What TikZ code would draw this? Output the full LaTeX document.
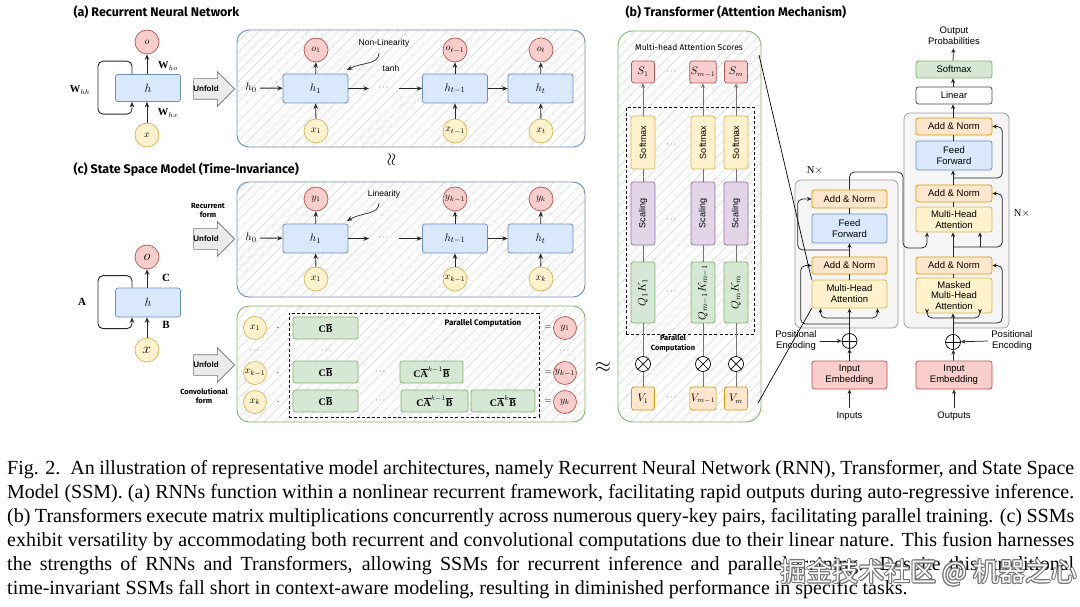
\documentclass[tikz,border=0pt]{standalone}
\usepackage{amsmath}
\usepackage{fontspec}
\setmainfont{Liberation Serif}
\newfontfamily\lab{Liberation Sans}
\newfontfamily\hand{Fira Sans}
\newfontfamily\cjkf{Noto Sans CJK SC}
\usetikzlibrary{arrows.meta,shapes.arrows,patterns.meta,calc}
\definecolor{blueL}{HTML}{DAE8FC}\definecolor{blueD}{HTML}{6C8EBF}
\definecolor{redL}{HTML}{F8CECC}\definecolor{redD}{HTML}{B85450}
\definecolor{yelL}{HTML}{FFF2CC}\definecolor{yelD}{HTML}{D6B656}
\definecolor{grnL}{HTML}{D5E8D4}\definecolor{grnD}{HTML}{82B366}
\definecolor{purL}{HTML}{E1D5E7}\definecolor{purD}{HTML}{9673A6}
\definecolor{orgL}{HTML}{FFE6CC}\definecolor{orgD}{HTML}{D79B00}
\definecolor{gryL}{HTML}{F5F5F5}\definecolor{gryD}{HTML}{9A9A9A}
\begin{document}
\begin{tikzpicture}[x=1pt,y=-1pt,
  arr/.style={-{Stealth[length=5.5pt,width=4.5pt]}, line width=0.9pt, draw=black!85},
  arr2/.style={-{Stealth[length=4.5pt,width=4pt]}, line width=0.75pt, draw=black!85},
  ln2/.style={line width=0.75pt, draw=black!85},
  gln/.style={line width=0.8pt, draw=black!55},
  garr/.style={gln, -{Stealth[length=4.5pt,width=4pt]}},
  box/.style={draw, rounded corners=2.5pt, line width=0.7pt, inner sep=1pt, align=center, font=\lab\fontsize{9.5}{11}\selectfont},
  hbox/.style={box, draw=blueD, fill=blueL, minimum width=65pt, minimum height=29pt, font=\fontsize{11}{12}\selectfont},
  ocirc/.style={circle, draw=redD, fill=redL, minimum size=24pt, inner sep=0pt, line width=0.7pt, font=\fontsize{10}{11}\selectfont},
  xcirc/.style={ocirc, draw=yelD, fill=yelL},
  gbox/.style={box, draw=grnD, fill=grnL, minimum height=22pt, font=\fontsize{10}{11}\selectfont},
  panel/.style={draw, rounded corners=12pt, line width=0.9pt, inner sep=0pt,
     pattern={Lines[angle=45,distance=7pt,line width=0.45pt]}, pattern color=black!16},
  unfold/.style={single arrow, draw=black!55, fill=black!8, line width=0.6pt, minimum height=41pt,
     single arrow head extend=7pt, inner xsep=2pt, inner ysep=10pt},
  unft/.style={font=\lab\bfseries\fontsize{8}{9}\selectfont},
  ttl/.style={anchor=west, font=\hand\bfseries\fontsize{12.5}{14}\selectfont},
  smallhand/.style={font=\hand\bfseries\fontsize{7.5}{9}\selectfont, align=center},
  note/.style={font=\lab\fontsize{8.5}{9}\selectfont},
  dots/.style={font=\fontsize{8}{8}\selectfont},
  otimes/.style={circle, draw, minimum size=15pt, inner sep=0pt, line width=0.7pt, fill=white,
     path picture={\draw[line width=0.7pt] (path picture bounding box.north west) -- (path picture bounding box.south east) (path picture bounding box.north east) -- (path picture bounding box.south west);}},
  oplus/.style={circle, draw, minimum size=15pt, inner sep=0pt, line width=0.7pt, fill=white,
     path picture={\draw[line width=0.7pt] (path picture bounding box.north) -- (path picture bounding box.south) (path picture bounding box.east) -- (path picture bounding box.west);}},
  vtxt/.style={box, rotate=90, minimum height=24pt},
  tbox/.style={box, minimum width=75pt},
]
\fill[white] (0,0) rectangle (1080,607);
\useasboundingbox (0,0) rectangle (1080,607);

% ---------------- (a) RNN ----------------
\node[ttl] (ta) at (70,12) {(a) Recurrent Neural Network};
\node[ocirc] (o) at (147,42) {$o$};
\node[hbox, minimum height=27pt, font=\fontsize{12}{12}\selectfont] (h) at (148,88) {$h$};
\node[xcirc] (x) at (147,135) {$x$};
\draw[arr] (x.north) -- (x.north|-h.south);
\draw[arr] (h.north-|o) -- (o.south);
\draw[arr, rounded corners=5pt] ([xshift=-16pt]h.north) -- ++(0,-13) -- ++(-34,0) -- ++(0,53) -- ++(34,0) -- ([xshift=-16pt]h.south);
\node[font=\fontsize{10.5}{11}\selectfont] (Whh) at (80,90) {$\mathbf{W}_{hh}$};
\node[font=\fontsize{10.5}{11}\selectfont] (Who) at (168,66) {$\mathbf{W}_{ho}$};
\node[font=\fontsize{10.5}{11}\selectfont] (Whx) at (168,113) {$\mathbf{W}_{hx}$};
\node[unfold] (u1) at (209,89) {};
\node[unft] (u1t) at (206,89) {Unfold};

\node[panel, draw=blueD, minimum width=348pt, minimum height=117pt] (P1) at (411,88.5) {};
\node[font=\fontsize{11}{12}\selectfont] (h0a) at (251,88) {$h_0$};
\node[hbox] (h1a) at (315.5,88.5) {$h_1$};
\node[ocirc] (o1a) at (316,50) {$o_1$};
\node[xcirc] (x1a) at (316,131) {$x_1$};
\node[dots] (d1a) at (384,88) {$\cdots$};
\node[hbox] (htma) at (455,88.5) {$h_{t-1}$};
\node[ocirc] (otma) at (455,50) {$o_{t-1}$};
\node[xcirc] (xtma) at (455,131) {$x_{t-1}$};
\node[hbox] (hta) at (540.5,88.5) {$h_t$};
\node[ocirc] (ota) at (541,50) {$o_t$};
\node[xcirc] (xta) at (541,131) {$x_t$};
\coordinate (a1) at (369,88.5); \coordinate (a2) at (399,88.5);
\draw[arr] (h0a) -- (h1a);
\draw[arr] (h1a) -- (a1);
\draw[arr] (a2) -- (htma);
\draw[arr] (htma) -- (hta);
\foreach \n in {1,tm,t}{\draw[arr] (x\n a) -- (h\n a); \draw[arr] (h\n a) -- (o\n a);}
\node[note] (nl) at (384,43) {Non-Linearity};
\node[note] (tanh) at (391,68) {tanh};
\coordinate (nlA) at (379,53); \coordinate (nlB) at (347,70);
\draw[arr, line width=0.7pt] (nlA) .. controls (379,65) and (362,62) .. (nlB);

\node[rotate=90, font=\fontsize{16}{16}\selectfont] (wav) at (392,160) {$\approx$};

% ---------------- (c) SSM ----------------
\node[ttl] (tc) at (70,170) {(c) State Space Model (Time-Invariance)};
\node[smallhand] (rf) at (208,210) {Recurrent\\form};
\node[unfold] (u2) at (209,239) {};
\node[unft] (u2t) at (206,239) {Unfold};
\node[unfold] (u3) at (209,365) {};
\node[unft] (u3t) at (206,365) {Unfold};
\node[smallhand] (cf) at (204,396) {Convolutional\\form};

\node[ocirc, font=\fontsize{14}{14}\selectfont] (so) at (147,257) {$o$};
\node[hbox, font=\fontsize{12}{12}\selectfont] (sh) at (148,302.5) {$h$};
\node[xcirc, font=\fontsize{14}{14}\selectfont] (sx) at (147,350) {$x$};
\draw[arr] (sx.north) -- (sx.north|-sh.south);
\draw[arr] (sh.north-|so) -- (so.south);
\draw[arr, rounded corners=5pt] ([xshift=-16pt]sh.north) -- ++(0,-12) -- ++(-34,0) -- ++(0,53) -- ++(34,0) -- ([xshift=-16pt]sh.south);
\node[font=\fontsize{11}{12}\selectfont] (lC) at (166,278) {$\mathbf{C}$};
\node[font=\fontsize{11}{12}\selectfont] (lB) at (166,325) {$\mathbf{B}$};
\node[font=\fontsize{11}{12}\selectfont] (lA) at (82,302) {$\mathbf{A}$};

\node[panel, draw=blueD, minimum width=348pt, minimum height=115pt] (P2) at (411,239.5) {};
\node[font=\fontsize{11}{12}\selectfont] (h0b) at (251,238) {$h_0$};
\node[hbox] (h1b) at (315.5,238.5) {$h_1$};
\node[ocirc] (o1b) at (316,199) {$y_1$};
\node[xcirc] (x1b) at (316,279) {$x_1$};
\node[dots] (d1b) at (384,238) {$\cdots$};
\node[hbox] (htmb) at (455,238.5) {$h_{t-1}$};
\node[ocirc] (otmb) at (455,199) {$y_{k-1}$};
\node[xcirc] (xtmb) at (455,279) {$x_{k-1}$};
\node[hbox] (htb) at (540.5,238.5) {$h_t$};
\node[ocirc] (otb) at (541,199) {$y_k$};
\node[xcirc] (xtb) at (541,279) {$x_k$};
\coordinate (b1) at (369,238.5); \coordinate (b2) at (399,238.5);
\draw[arr] (h0b) -- (h1b);
\draw[arr] (h1b) -- (b1);
\draw[arr] (b2) -- (htmb);
\draw[arr] (htmb) -- (htb);
\foreach \n in {1,tm,t}{\draw[arr] (x\n b) -- (h\n b); \draw[arr] (h\n b) -- (o\n b);}
\node[note] (lin) at (384,194) {Linearity};
\coordinate (lnA) at (379,203); \coordinate (lnB) at (347,221);
\draw[arr, line width=0.7pt] (lnA) .. controls (379,215) and (362,212) .. (lnB);

\node[panel, draw=grnD, minimum width=348pt, minimum height=116pt] (P3) at (411,364) {};
\node[draw, dashed, line width=0.9pt, dash pattern=on 3pt off 2.2pt, minimum width=250pt, minimum height=104pt, inner sep=0] (DR1) at (414,365) {};
\node[smallhand, font=\hand\bfseries\fontsize{8}{9}\selectfont] (pc1) at (483,323) {Parallel Computation};
\node[xcirc, minimum size=23pt] (cx1) at (255,328) {$x_1$};
\node[dots] (cxd) at (255,351) {$\cdots$};
\node[xcirc, minimum size=23pt] (cx2) at (255,373) {$x_{k-1}$};
\node[xcirc, minimum size=23pt] (cx3) at (255,402) {$x_k$};
\node[ocirc, minimum size=23pt] (cy1) at (565,328) {$y_1$};
\node[dots] (cyd) at (565,351) {$\cdots$};
\node[ocirc, minimum size=23pt] (cy2) at (565,373) {$y_{k-1}$};
\node[ocirc, minimum size=23pt] (cy3) at (565,402) {$y_k$};
\foreach \r/\yy in {1/328,2/373,3/402}{
  \node (dot\r) at (278,\yy) {$\cdot$};
  \node[font=\fontsize{9}{9}\selectfont] (eq\r) at (548,\yy) {$=$};
}
\node[gbox, minimum width=65pt] (cb1) at (325.5,328) {$\mathbf{C}\overline{\mathbf{B}}$};
\node[dots] (cbd) at (327,351) {$\cdots$};
\node[gbox, minimum width=65pt] (cb2) at (325.5,372) {$\mathbf{C}\overline{\mathbf{B}}$};
\node[dots] (cd2) at (381,372) {$\cdots$};
\node[gbox, minimum width=63pt] (ca2) at (431.5,372) {$\mathbf{C}\overline{\mathbf{A}}^{k-1}\overline{\mathbf{B}}$};
\node[gbox, minimum width=65pt] (cb3) at (325.5,401) {$\mathbf{C}\overline{\mathbf{B}}$};
\node[dots] (cd3) at (381,401) {$\cdots$};
\node[gbox, minimum width=67pt] (ca3) at (434.5,401) {$\mathbf{C}\overline{\mathbf{A}}^{k-1}\overline{\mathbf{B}}$};
\node[gbox, minimum width=64pt] (ck3) at (503,401) {$\mathbf{C}\overline{\mathbf{A}}^{k}\overline{\mathbf{B}}$};

\node[font=\fontsize{20}{20}\selectfont] (apx) at (603,367) {$\approx$};

% ---------------- (b) Transformer ----------------
\node[ttl] (tb) at (622,12) {(b) Transformer (Attention Mechanism)};
\node[panel, draw=grnD, rounded corners=15pt, minimum width=143pt, minimum height=391pt] (P4) at (689.5,226.5) {};
\node[font=\hand\fontsize{8.5}{9}\selectfont] (mhs) at (689,47) {Multi-head Attention Scores};
\node[draw, dashed, line width=0.9pt, dash pattern=on 3pt off 2.2pt, minimum width=128pt, minimum height=227pt, inner sep=0] (DR2) at (690,220.5) {};
\foreach \c/\xx/\s/\q/\v in {1/643/{S_1}/{Q_1K_1}/{V_1}, 2/703/{S_{m-1}}/{Q_{m-1}K_{m-1}}/{V_{m-1}}, 3/736/{S_m}/{Q_mK_m}/{V_m}}{
  \node[box, draw=redD, fill=redL, minimum width=23pt, minimum height=22pt, font=\fontsize{10.5}{11}\selectfont] (S\c) at (\xx,72) {$\s$};
  \node[vtxt, draw=yelD, fill=yelL, minimum width=53pt, font=\lab\fontsize{9}{9}\selectfont] (Sm\c) at (\xx,142.5) {Softmax};
  \node[vtxt, draw=purD, fill=purL, minimum width=63pt, font=\lab\fontsize{9}{9}\selectfont] (Sc\c) at (\xx,213.5) {Scaling};
  \node[vtxt, draw=grnD, fill=grnL, minimum width=61pt, font=\fontsize{11}{11}\selectfont] (QK\c) at (\xx,292.5) {$\q$};
  \node[otimes] (X\c) at (\xx,364) {};
  \node[box, draw=orgD, fill=orgL, minimum width=23pt, minimum height=23pt, font=\fontsize{10.5}{11}\selectfont] (V\c) at (\xx,398.5) {$\v$};
  \draw[gln] (V\c) -- (X\c);
  \draw[gln] (X\c) -- (QK\c);
  \draw[gln] (QK\c) -- (Sc\c);
  \draw[gln] (Sc\c) -- (Sm\c);
  \draw[garr] (Sm\c) -- (S\c);
}
\foreach \yy in {72,145,220,292,398}{\node[dots] at (672,\yy) {$\cdots$};}
\node[smallhand, font=\hand\bfseries\fontsize{7.5}{10}\selectfont] (pc2) at (673,343) {Parallel\\Computation};

% Encoder
\node[draw=gryD, fill=gryL, rounded corners=6pt, line width=0.7pt, minimum width=103pt, minimum height=148pt] (eG) at (846.5,254) {};
\node[font=\fontsize{10.5}{12}\selectfont] (Nx1) at (815,171) {N$\times$};
\node[tbox, draw=orgD, fill=orgL, minimum height=18pt] (eAN2) at (849.5,199) {Add \& Norm};
\node[tbox, draw=blueD, fill=blueL, minimum height=29pt] (eFF) at (849.5,228.5) {Feed\\Forward};
\node[tbox, draw=orgD, fill=orgL, minimum height=17pt] (eAN1) at (849.5,265.5) {Add \& Norm};
\node[tbox, draw=yelD, fill=yelL, minimum height=28pt] (eMHA) at (849.5,294) {Multi-Head\\Attention};
\node[oplus] (ePlus) at (849.5,341) {};
\node[tbox, draw=redD, fill=redL, minimum height=28pt] (eEmb) at (849.5,375) {Input\\Embedding};
\node[font=\lab\fontsize{9.5}{11}\selectfont] (inputs) at (849.5,416) {Inputs};
\node[font=\lab\fontsize{9.5}{11}\selectfont, align=center] (pos1) at (796,341) {Positional\\Encoding};
\draw[arr2] (inputs) -- (eEmb);
\draw[arr2] (eEmb) -- (ePlus);
\draw[arr2] (pos1.east) -- (ePlus);
\draw[arr2] (ePlus) -- (eMHA);
\coordinate (eb) at (849.5,318);
\draw[arr2, rounded corners=5pt] (eb) -| ([xshift=-29pt]eMHA.south);
\draw[arr2, rounded corners=5pt] (eb) -| ([xshift=28pt]eMHA.south);
\coordinate (er1) at (849.5,324);
\draw[arr2, rounded corners=5pt] (er1) -| ($(eAN1.west)+(-11,0)$) -- (eAN1.west);
\draw[ln2] (eMHA) -- (eAN1);
\draw[arr2] (eAN1) -- (eFF);
\coordinate (er2) at (849.5,250);
\draw[arr2, rounded corners=5pt] (er2) -| ($(eAN2.west)+(-14,0)$) -- (eAN2.west);
\draw[ln2] (eFF) -- (eAN2);

% Decoder
\node[draw=gryD, fill=gryL, rounded corners=6pt, line width=0.7pt, minimum width=105pt, minimum height=215pt] (dG) at (956.5,220.5) {};
\node[font=\fontsize{10.5}{12}\selectfont] (Nx2) at (1022,214) {N$\times$};
\node[font=\lab\fontsize{9.5}{11}\selectfont, align=center] (outp) at (954,36) {Output\\Probabilities};
\node[tbox, minimum width=76pt, draw=grnD, fill=grnL, minimum height=17pt] (dSoft) at (954,69.5) {Softmax};
\node[tbox, minimum width=76pt, draw=black!70, fill=white, minimum height=17pt] (dLin) at (954,95.5) {Linear};
\node[tbox, minimum width=76pt, draw=orgD, fill=orgL, minimum height=17pt] (dAN3) at (954,126.5) {Add \& Norm};
\node[tbox, minimum width=76pt, draw=blueD, fill=blueL, minimum height=29pt] (dFF) at (954,155.5) {Feed\\Forward};
\node[tbox, minimum width=76pt, draw=orgD, fill=orgL, minimum height=17pt] (dAN2) at (954,193.5) {Add \& Norm};
\node[tbox, minimum width=76pt, draw=yelD, fill=yelL, minimum height=25pt] (dMHA) at (954,219.5) {Multi-Head\\Attention};
\node[tbox, minimum width=76pt, draw=orgD, fill=orgL, minimum height=17pt] (dAN1) at (954,265.5) {Add \& Norm};
\node[tbox, minimum width=76pt, draw=yelD, fill=yelL, minimum height=35pt, font=\lab\fontsize{9.5}{10.5}\selectfont] (dMMHA) at (954,295.5) {Masked\\Multi-Head\\Attention};
\node[oplus] (dPlus) at (953,342) {};
\node[tbox, minimum width=76pt, draw=redD, fill=redL, minimum height=28pt] (dEmb) at (954,375) {Input\\Embedding};
\node[font=\lab\fontsize{9.5}{11}\selectfont] (outputs) at (954,416) {Outputs};
\node[font=\lab\fontsize{9.5}{11}\selectfont, align=center] (pos2) at (1012,341) {Positional\\Encoding};
\draw[arr2] (outputs) -- (dEmb);
\draw[arr2] (dEmb) -- (dPlus);
\draw[arr2] (pos2.west) -- (dPlus);
\draw[arr2] (dPlus) -- (dPlus|-dMMHA.south);
\coordinate (db) at (953,318);
\draw[arr2, rounded corners=5pt] (db) -| ([xshift=-27pt]dMMHA.south);
\draw[arr2, rounded corners=5pt] (db) -| ([xshift=26pt]dMMHA.south);
\coordinate (dr1) at (953,323);
\draw[arr2, rounded corners=5pt] (dr1) -| ($(dAN1.east)+(10,0)$) -- (dAN1.east);
\draw[ln2] (dMMHA.north-|dPlus) -- (dAN1.south-|dPlus);
\draw[arr2] (dAN1.north-|dPlus) -- (dMHA.south-|dPlus);
\coordinate (dr2) at (953,247);
\draw[arr2, rounded corners=5pt] (dr2) -| ($(dAN2.east)+(10,0)$) -- (dAN2.east);
\coordinate (dq) at (980,247);
\draw[arr2] (dq) -- ([xshift=26pt]dMHA.south);
\draw[ln2] (dMHA.north-|dPlus) -- (dAN2.south-|dPlus);
\draw[arr2] (dAN2.north-|dPlus) -- (dFF.south-|dPlus);
\coordinate (dr3) at (953,178);
\draw[arr2, rounded corners=5pt] (dr3) -| ($(dAN3.east)+(10,0)$) -- (dAN3.east);
\draw[ln2] (dFF.north-|dPlus) -- (dAN3.south-|dPlus);
\draw[arr2] (dAN3.north-|dPlus) -- (dLin.south-|dPlus);
\draw[arr2] (dLin.north-|dPlus) -- (dSoft.south-|dPlus);
\draw[arr2] (dSoft.north-|dPlus) -- (outp);
% encoder -> decoder
\draw[arr2, rounded corners=5pt] (eAN2.north) -- (849.5,172) -- (903,172) -- (903,248) -- (927,248) -- ([xshift=-27pt]dMHA.south);
% attention panel -> encoder MHA
\coordinate (c1) at (759,55); \coordinate (c2) at (758,403);
\draw[line width=0.7pt] (c1) -- (eMHA.north west);
\draw[line width=0.7pt] (c2) -- (eMHA.south west);

% ---------------- caption ----------------
\node[anchor=north west, inner sep=0pt, align=left, font=\fontsize{20}{24}\selectfont] (cap) at (7,460) {%
\makebox[1067pt][s]{Fig. 2.\enskip An illustration of representative model architectures, namely Recurrent Neural Network (RNN), Transformer, and State Space}\\
\makebox[1067pt][s]{Model (SSM). (a) RNNs function within a nonlinear recurrent framework, facilitating rapid outputs during auto-regressive inference.}\\
\makebox[1067pt][s]{(b) Transformers execute matrix multiplications concurrently across numerous query-key pairs, facilitating parallel training. (c) SSMs}\\
\makebox[1067pt][s]{exhibit versatility by accommodating both recurrent and convolutional computations due to their linear nature. This fusion harnesses}\\
\makebox[1067pt][s]{the strengths of RNNs and Transformers, allowing SSMs for recurrent inference and parallel training. Despite this, traditional}\\
time-invariant SSMs fall short in context-aware modeling, resulting in diminished performance in specific tasks.};
% watermark
\foreach \dx/\dy in {-1/0,1/0,0/-1,0/1,-0.8/-0.8,0.8/0.8,-0.8/0.8,0.8/-0.8}{
  \node[text=black!55, font=\cjkf\fontsize{26}{26}\selectfont] at ($(929,573)+(\dx,\dy)$) {掘金技术社区 @ 机器之心};
}
\node[text=white, font=\cjkf\fontsize{26}{26}\selectfont] (wm) at (929,573) {掘金技术社区 @ 机器之心};
\end{tikzpicture}
\end{document}
